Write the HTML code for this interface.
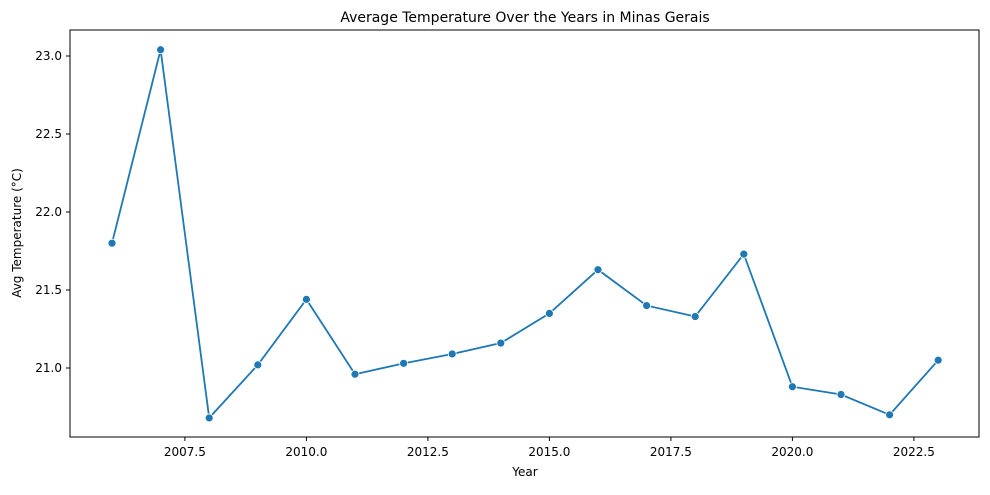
<!DOCTYPE html>
<html><head><meta charset="utf-8"><style>
body{margin:0;background:#fff;font-family:"Liberation Sans","DejaVu Sans",sans-serif}
svg text{font-family:"DejaVu Sans","Liberation Sans",sans-serif}
</style></head><body>
<svg id="chart" width="990" height="490">
<text x="525" y="22" font-size="14" text-anchor="middle">Average Temperature Over the Years in Minas Gerais</text>
<rect x="70" y="30" width="909" height="407" fill="none" stroke="#000" stroke-width="1"/>
<g id="xt"></g>
<g id="yt"></g>
<text x="525" y="476" font-size="12" text-anchor="middle">Year</text>
<text transform="translate(21,233) rotate(-90)" font-size="12" text-anchor="middle">Avg Temperature (°C)</text>
<g id="series"></g>
</svg>
<script>
const years=[2006,2007,2008,2009,2010,2011,2012,2013,2014,2015,2016,2017,2018,2019,2020,2021,2022,2023];
const temps=[21.80,23.04,20.68,21.02,21.44,20.96,21.03,21.09,21.16,21.35,21.63,21.40,21.33,21.73,20.88,20.83,20.70,21.05];
const xTicks=[2007.5,2010.0,2012.5,2015.0,2017.5,2020.0,2022.5];
const yTicks=[21.0,21.5,22.0,22.5,23.0];
const NS="http://www.w3.org/2000/svg";
const xs=v=>112+(v-2006)*48.6;
const ys=v=>368-(v-21)*156;
const xt=document.getElementById('xt'),yt=document.getElementById('yt'),sg=document.getElementById('series');
function mk(t,a,p){const e=document.createElementNS(NS,t);for(const k in a)e.setAttribute(k,a[k]);p.appendChild(e);return e;}
xTicks.forEach(v=>{const x=xs(v);
 const l=mk('line',{x1:x,x2:x,y1:437,y2:441,stroke:'#000'},xt);
 
 
 const t=mk('text',{x:x,y:456,'font-size':12,'text-anchor':'middle'},xt);t.textContent=v.toFixed(1);
 
 });
yTicks.forEach(v=>{const y=ys(v);
 const l=mk('line',{x1:66,x2:70,y1:y,y2:y,stroke:'#000'},yt);
 
 
 const t=mk('text',{x:62,y:y+4,'font-size':12,'text-anchor':'end'},yt);t.textContent=v.toFixed(1);
 
 });
const pts=years.map((y,i)=>xs(y)+','+ys(temps[i])).join(' ');
const pl=mk('polyline',{points:pts,fill:'none',stroke:'#1f77b4','stroke-width':1.8},sg);


years.forEach((y,i)=>{const c=mk('circle',{cx:xs(y),cy:ys(temps[i]),r:4,fill:'#1f77b4',stroke:'#fff','stroke-width':0.8},sg);
 
 });
</script>
</body></html>
